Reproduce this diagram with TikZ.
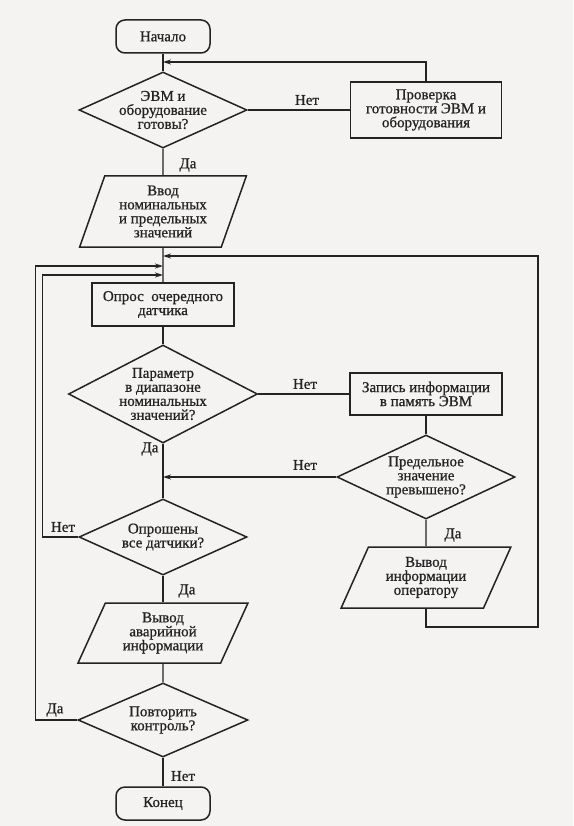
\documentclass[tikz,border=0pt]{standalone}
\usepackage{fontspec}
\setmainfont{Liberation Serif}
\newfontfamily\boxfont{Liberation Serif}[FakeBold=0.8]
\usepackage{tikz}
\usetikzlibrary{shapes.geometric,arrows.meta}
\definecolor{paper}{RGB}{245,243,241}
\definecolor{ink}{RGB}{35,35,35}
\newcommand{\drawline}{\draw[ink,line width=1.3pt]}
\newcommand{\drawarrow}{\draw[ink,line width=1.3pt,-{Stealth[length=8pt,width=5pt]}]}
\tikzset{
  blk/.style={draw=ink,line width=1.5pt,text=ink,font=\boxfont\fontsize{15}{14}\selectfont,align=center,inner sep=0pt},
  term/.style={blk,rectangle,rounded corners=9pt,minimum width=94pt,minimum height=33pt},
  proc/.style={blk,rectangle,minimum width=#1,minimum height=43pt},
  ask/.style={blk,diamond,shape aspect=#1,inner sep=-2.5pt},
  io/.style={blk,trapezium,trapezium left angle=65,trapezium right angle=115,trapezium stretches=true,minimum width=170pt,minimum height=#1},
  yn/.style={text=ink,font=\boxfont\fontsize{15}{14}\selectfont,inner sep=0pt}
}

\begin{document}
\begin{tikzpicture}[x=1pt,y=-1pt]
\fill[paper] (0,0) rectangle (573,826);
\node[term] (start) at (163,36.5) {Начало};
\node[ask=2.2,minimum width=168pt,minimum height=76pt] (ready) at (163,110) {ЭВМ и\\оборудование\\готовы?};
\node[proc=151pt,minimum height=56pt] (check) at (426,110) {Проверка\\готовности ЭВМ и\\оборудования};
\node[io=71pt,trapezium left angle=70,trapezium right angle=110,minimum width=167pt] (input) at (163,211.5) {Ввод\\номинальных\\и предельных\\значений};
\node[proc=142pt] (poll) at (163,304.5) {Опрос\enspace очередного\\датчика};
\node[ask=1.93,minimum width=189pt,minimum height=98pt] (range) at (163,394) {Параметр\\в диапазоне\\номинальных\\значений?};
\node[proc=152pt,minimum height=42pt] (store) at (426,394) {Запись информации\\в память ЭВМ};
\node[ask=2.1,minimum width=178pt,minimum height=84pt] (limit) at (426,477) {Предельное\\значение\\превышено?};
\node[io=61pt] (oper) at (426,577.5) {Вывод\\информации\\оператору};
\node[ask=2.2,minimum width=168pt,minimum height=76pt] (done) at (163,537) {Опрошены\\все датчики?};
\node[io=60pt] (alarm) at (163,633) {Вывод\\аварийной\\информации};
\node[ask=2.3,minimum width=170pt,minimum height=74pt] (again) at (163,720) {Повторить\\контроль?};
\node[term] (stop) at (163,803.5) {Конец};
\node[yn] (noA) at (307,100) {Нет};
\node[yn] (yesA) at (188,165) {Да};
\node[yn] (noB) at (305,384) {Нет};
\node[yn] (yesB) at (150,449) {Да};
\node[yn] (noC) at (305,465) {Нет};
\node[yn] (yesC) at (453,535) {Да};
\node[yn] (noD) at (63,527) {Нет};
\node[yn] (yesD) at (187,591) {Да};
\node[yn] (yesE) at (55,710) {Да};
\node[yn] (noE) at (183,776) {Нет};
\coordinate (jT) at (163,62);
\coordinate (jR) at (163,256);
\coordinate (jO) at (163,266);
\coordinate (jI) at (163,275);
\coordinate (jN) at (163,477);
\coordinate (rc) at (538,627);
\drawline (start) -- (ready);
\drawline (ready) -- (check);
\drawarrow (check.north) |- (jT);
\drawline (ready) -- (input);
\drawline (input) -- (poll);
\drawline (poll) -- (range);
\drawline (range) -- (store);
\drawline (store) -- (limit);
\drawarrow (limit) -- (jN);
\drawline (limit) -- (oper);
\drawarrow (oper.south) |- (rc) |- (jR);
\drawline (range) -- (done);
\drawarrow (done.west) -- ++(-36,0) |- (jI);
\drawline (done) -- (alarm);
\drawline (alarm) -- (again);
\drawarrow (again.west) -- ++(-42,0) |- (jO);
\drawline (again) -- (stop);
\end{tikzpicture}
\end{document}
